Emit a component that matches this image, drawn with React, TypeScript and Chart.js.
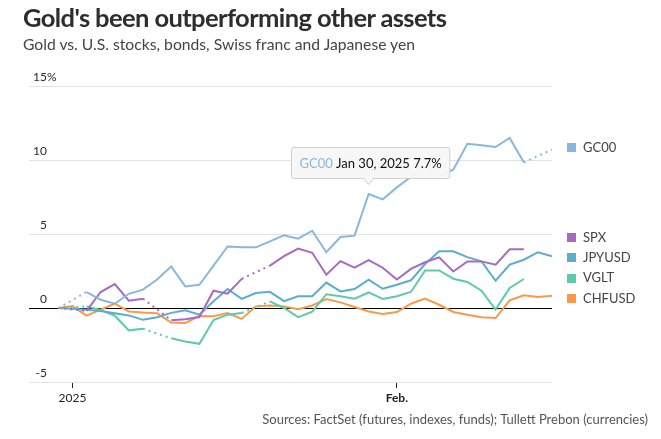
import React, { useEffect, useRef } from "react";
import { Chart, registerables } from "chart.js";

Chart.register(...registerables);

// ---------- DATA ----------
const dates = [
  "Dec 31, 2024", "Jan 1, 2025", "Jan 2, 2025", "Jan 3, 2025", "Jan 6, 2025", "Jan 7, 2025",
  "Jan 8, 2025", "Jan 9, 2025", "Jan 10, 2025", "Jan 13, 2025", "Jan 14, 2025", "Jan 15, 2025",
  "Jan 16, 2025", "Jan 17, 2025", "Jan 20, 2025", "Jan 21, 2025", "Jan 22, 2025", "Jan 23, 2025",
  "Jan 24, 2025", "Jan 27, 2025", "Jan 28, 2025", "Jan 29, 2025", "Jan 30, 2025", "Jan 31, 2025",
  "Feb 3, 2025", "Feb 4, 2025", "Feb 5, 2025", "Feb 6, 2025", "Feb 7, 2025", "Feb 10, 2025",
  "Feb 11, 2025", "Feb 12, 2025", "Feb 13, 2025", "Feb 14, 2025", "Feb 17, 2025", "Feb 18, 2025",
];

const gc00 = [
  0, null, 1.08, 0.56, 0.29, 0.96, 1.24, 1.93, 2.81, 1.46, 1.57, 2.86,
  4.16, 4.1, 4.1, 4.5, 4.91, 4.68, 5.22, 3.77, 4.8, 4.89, 7.7, 7.34,
  8.15, 8.85, 9.52, 8.94, 9.34, 11.1, 11.0, 10.88, 11.49, 9.84, null, 10.7,
];
const spx = [
  0, null, -0.2, 1.08, 1.62, 0.49, 0.63, null, -0.82, -0.76, -0.61, 1.17,
  0.97, 1.97, null, 2.86, 3.5, 4.02, 3.73, 2.25, 3.17, 2.72, 3.24, 2.72,
  1.93, 2.64, 3.09, 3.42, 2.47, 3.15, 3.15, 2.93, 3.97, 3.97, null, null,
];
const jpyusd = [
  0, -0.05, -0.12, -0.2, -0.35, -0.5, -0.8, -0.62, -0.33, -0.16, -0.45, 0.45,
  1.29, 0.62, 1.01, 1.09, 0.46, 0.79, 0.79, 1.72, 1.12, 1.28, 1.91, 1.3,
  1.57, 1.87, 2.97, 3.83, 3.83, 3.44, 3.15, 1.84, 2.93, 3.26, 3.77, 3.49,
];
const vglt = [
  0, null, 0.11, -0.14, -0.52, -1.51, -1.4, null, -2.05, -2.27, -2.42, -0.81,
  -0.45, -0.34, null, 0.45, 0.0, -0.62, -0.25, 0.93, 0.79, 0.63, 1.05, 0.61,
  0.79, 1.08, 2.54, 2.54, 1.98, 1.76, 1.17, -0.11, 1.35, 1.96, null, null,
];
const chfusd = [
  0, 0.13, -0.52, -0.11, 0.29, -0.23, -0.31, -0.36, -0.98, -1.01, -0.54, -0.56,
  -0.34, -0.74, 0.11, 0.17, 0.11, -0.09, 0.17, 0.61, 0.38, 0.07, -0.23, -0.41,
  -0.27, 0.29, 0.63, 0.22, -0.27, -0.45, -0.63, -0.68, 0.52, 0.86, 0.74, 0.83,
];

const seriesNames = ["GC00", "SPX", "JPYUSD", "VGLT", "CHFUSD"];
const seriesValues = [gc00, spx, jpyusd, vglt, chfusd];
const seriesColors = ["#88b7e0", "#a66bc1", "#5badd0", "#5dcbaa", "#f99a4b"];

const yTickValues = [15, 10, 5, 0, -5];
const xTickIndices = [1, 24];
const xTickLabels = ["2025", "Feb."];

const tooltipSeries = 0;
const tooltipIndex = 22;

const FONT = "Lato, 'Open Sans', sans-serif";

// ---------- PLUGIN ----------
const overlayPlugin = {
  id: "overlay",
  afterDraw(chart: any) {
    const ctx = chart.ctx as CanvasRenderingContext2D;
    const yScale = chart.scales.y;
    const area = chart.chartArea;

    // Y-axis labels, sitting above grid lines
    ctx.save();
    ctx.font = `12px ${FONT}`;
    ctx.fillStyle = "#2a2a2a";
    ctx.textBaseline = "alphabetic";
    const labelRight = area.left + 18;
    yTickValues.forEach((v, i) => {
      const py = yScale.getPixelForValue(v) - 5;
      ctx.textAlign = "right";
      ctx.fillText(String(v), labelRight, py);
      if (i === 0) {
        ctx.textAlign = "left";
        ctx.fillText("%", labelRight, py);
      }
    });
    ctx.restore();

    // Legend placed at the last value of each series
    const items = seriesNames.map((name, di) => {
      const vals = seriesValues[di];
      let last = 0;
      vals.forEach((v, k) => {
        if (v !== null) last = k;
      });
      return { name, color: seriesColors[di], target: yScale.getPixelForValue(vals[last] as number), y: 0 };
    });
    items.sort((a, b) => a.target - b.target);
    const gap = 20.3;
    let clusters = items.map((it) => ({ members: [it], center: it.target }));
    let changed = true;
    while (changed) {
      changed = false;
      for (let i = 0; i < clusters.length - 1; i++) {
        const a = clusters[i];
        const b = clusters[i + 1];
        const aBottom = a.center + ((a.members.length - 1) * gap) / 2;
        const bTop = b.center - ((b.members.length - 1) * gap) / 2;
        if (bTop - aBottom < gap) {
          const members = a.members.concat(b.members);
          const center = members.reduce((s, m) => s + m.target, 0) / members.length;
          clusters.splice(i, 2, { members, center });
          changed = true;
          break;
        }
      }
    }
    clusters.forEach((c) => {
      c.members.forEach((m, k) => {
        m.y = c.center - ((c.members.length - 1) * gap) / 2 + k * gap - 2;
      });
    });
    ctx.save();
    ctx.font = `13px ${FONT}`;
    ctx.textBaseline = "middle";
    ctx.textAlign = "left";
    const legX = area.right + 15;
    items.forEach((m) => {
      ctx.fillStyle = m.color;
      ctx.fillRect(legX, Math.round(m.y - 4.5), 9, 9);
      ctx.fillStyle = "#444";
      ctx.fillText(m.name, legX + 16, m.y);
    });
    ctx.restore();

    // Tooltip
    const meta = chart.getDatasetMeta(tooltipSeries);
    const pt = meta.data[tooltipIndex];
    if (pt) {
      const t1 = seriesNames[tooltipSeries];
      const t2 = ` ${dates[tooltipIndex]} ${seriesValues[tooltipSeries][tooltipIndex]}%`;
      ctx.save();
      ctx.font = `13px ${FONT}`;
      const w1 = ctx.measureText(t1).width;
      const w2 = ctx.measureText(t2).width;
      const padX = 8;
      const boxW = w1 + w2 + padX * 2;
      const boxH = 31;
      const bx = Math.round(pt.x + 1 - boxW / 2) + 0.5;
      const by = Math.round(pt.y - 16 - boxH) + 0.5;
      const r = 2;
      ctx.beginPath();
      ctx.moveTo(bx + r, by);
      ctx.lineTo(bx + boxW - r, by);
      ctx.arcTo(bx + boxW, by, bx + boxW, by + r, r);
      ctx.lineTo(bx + boxW, by + boxH - r);
      ctx.arcTo(bx + boxW, by + boxH, bx + boxW - r, by + boxH, r);
      ctx.lineTo(pt.x + 5, by + boxH);
      ctx.lineTo(pt.x, by + boxH + 6);
      ctx.lineTo(pt.x - 5, by + boxH);
      ctx.lineTo(bx + r, by + boxH);
      ctx.arcTo(bx, by + boxH, bx, by + boxH - r, r);
      ctx.lineTo(bx, by + r);
      ctx.arcTo(bx, by, bx + r, by, r);
      ctx.closePath();
      ctx.fillStyle = "rgba(247,247,247,0.97)";
      ctx.fill();
      ctx.strokeStyle = "#cfcfcf";
      ctx.lineWidth = 1;
      ctx.stroke();
      ctx.textBaseline = "middle";
      ctx.textAlign = "left";
      ctx.fillStyle = seriesColors[tooltipSeries];
      ctx.fillText(t1, bx + padX, by + boxH / 2 + 1);
      ctx.fillStyle = "#111";
      ctx.fillText(t2, bx + padX + w1, by + boxH / 2 + 1);
      ctx.restore();
    }
  },
};

const dashedGap = (ctx: any) => (ctx.p0.skip || ctx.p1.skip ? [2, 4] : undefined);

export default function App() {
  const canvasRef = useRef<HTMLCanvasElement | null>(null);

  useEffect(() => {
    const canvas = canvasRef.current;
    if (!canvas) return;
    const chart = new Chart(canvas, {
      type: "line",
      data: {
        datasets: seriesNames.map((name, di) => ({
          label: name,
          data: seriesValues[di].map((v, i) => ({ x: i, y: v === null ? NaN : v })),
          borderColor: seriesColors[di],
          backgroundColor: seriesColors[di],
          borderWidth: 2,
          pointRadius: 0,
          pointHoverRadius: 0,
          tension: 0,
          spanGaps: true,
          segment: { borderDash: dashedGap },
        })),
      },
      options: {
        responsive: false,
        animation: false,
        devicePixelRatio: 1,
        events: [],
        layout: { padding: { left: 29, right: 109, top: 86, bottom: 27 } },
        plugins: { legend: { display: false }, tooltip: { enabled: false }, title: { display: false } },
        scales: {
          x: {
            type: "linear",
            min: -2.08,
            max: 35,
            border: { display: false },
            grid: { drawOnChartArea: false, drawTicks: true, tickLength: 6, color: "#222", lineWidth: 1 },
            afterBuildTicks: (scale: any) => {
              scale.ticks = xTickIndices.map((v) => ({ value: v }));
            },
            afterFit: (scale: any) => {
              scale.height = 30;
            },
            ticks: {
              autoSkip: false,
              maxRotation: 0,
              padding: 3,
              color: "#222",
              font: (c: any) => ({
                family: FONT,
                size: 12,
                weight: c.tick && c.tick.value === xTickIndices[1] ? "bold" : "normal",
              }),
              callback: (value: any) => {
                const k = xTickIndices.indexOf(Number(value));
                return k >= 0 ? xTickLabels[k] : "";
              },
            },
          },
          y: {
            min: -5,
            max: 15,
            border: { display: false },
            afterFit: (scale: any) => {
              scale.width = 0;
            },
            ticks: { display: false, stepSize: 5 },
            grid: {
              drawTicks: false,
              lineWidth: 1,
              color: (c: any) => (c.tick && c.tick.value === 0 ? "#000" : "#e3e3e3"),
            },
          },
        },
      },
      plugins: [overlayPlugin],
    });
    return () => chart.destroy();
  }, []);

  return (
    <div style={{ position: "absolute", left: 0, top: 0, width: 661, height: 439, background: "#fff", overflow: "hidden" }}>
      <canvas ref={canvasRef} width={661} height={439} style={{ position: "absolute", left: 0, top: 0 }} />
      <div
        style={{
          position: "absolute",
          left: 23,
          top: 2,
          fontFamily: FONT,
          fontWeight: 700,
          fontSize: 25.5,
          letterSpacing: -0.6,
          lineHeight: 1.2,
          color: "#2d2d2d",
          whiteSpace: "nowrap",
        }}
      >
        Gold's been outperforming other assets
      </div>
      <div
        style={{
          position: "absolute",
          left: 23,
          top: 35,
          fontFamily: FONT,
          fontSize: 15.7,
          lineHeight: 1.2,
          color: "#444",
          whiteSpace: "nowrap",
        }}
      >
        Gold vs. U.S. stocks, bonds, Swiss franc and Japanese yen
      </div>
      <div
        style={{
          position: "absolute",
          right: 661 - 648,
          top: 412,
          fontFamily: FONT,
          fontSize: 13,
          lineHeight: 1.2,
          color: "#555",
          whiteSpace: "nowrap",
        }}
      >
        Sources: FactSet (futures, indexes, funds); Tullett Prebon (currencies)
      </div>
    </div>
  );
}
